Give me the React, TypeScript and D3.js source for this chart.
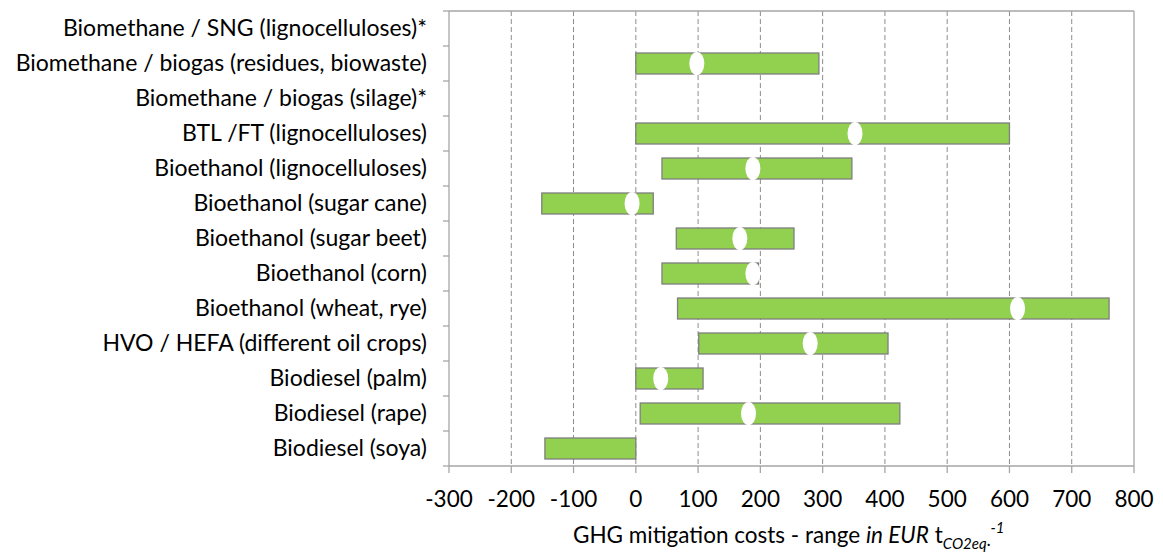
import React from "react";
import * as d3 from "d3";

const categories = [
  "Biomethane / SNG (lignocelluloses)*",
  "Biomethane / biogas (residues, biowaste)",
  "Biomethane / biogas (silage)*",
  "BTL /FT (lignocelluloses)",
  "Bioethanol (lignocelluloses)",
  "Bioethanol (sugar cane)",
  "Bioethanol (sugar beet)",
  "Bioethanol (corn)",
  "Bioethanol (wheat, rye)",
  "HVO / HEFA (different oil crops)",
  "Biodiesel (palm)",
  "Biodiesel (rape)",
  "Biodiesel (soya)",
];
const rangeMin: (number | null)[] = [null, 0, null, 0, 42, -151, 65, 42, 67, 101, 0, 7, -146];
const rangeMax: (number | null)[] = [null, 294, null, 600, 347, 28, 254, 197, 760, 405, 108, 424, 0];
const midValue: (number | null)[] = [null, 98, null, 352, 188, -6, 167, 188, 613, 280, 40, 181, null];
const xTicks = [-300, -200, -100, 0, 100, 200, 300, 400, 500, 600, 700, 800];

const W = 1163, H = 555;
const left = 449, right = 1134, top = 11, bottom = 466;
const font = "Lato, 'Open Sans', sans-serif";
const axisColor = "#a6a6a6";

export default function App() {
  const x = d3.scaleLinear().domain([-300, 800]).range([left, right]);
  const y = d3.scaleBand().domain(categories).range([top, bottom]).paddingInner(0).paddingOuter(0);
  const bw = y.bandwidth();
  const barH = 21;
  return (
    <svg width={W} height={H} style={{ position: "absolute", left: 0, top: 0, background: "#fff" }}>
      {xTicks.slice(1, -1).map((t) => (
        <line key={"g" + t} x1={x(t)} x2={x(t)} y1={top} y2={bottom} stroke="#8c8c8c" strokeWidth={1} strokeDasharray="5,3" />
      ))}
      <line x1={left} x2={right} y1={top} y2={top} stroke={axisColor} strokeWidth={1.3} />
      <line x1={right} x2={right} y1={top} y2={bottom} stroke={axisColor} strokeWidth={1.3} />
      <line x1={left} x2={left} y1={top} y2={bottom} stroke={axisColor} strokeWidth={1.3} />
      <line x1={left} x2={right} y1={bottom} y2={bottom} stroke={axisColor} strokeWidth={1.3} />
      {categories.map((c, i) => (
        <line key={"yt" + i} x1={left - 6} x2={left} y1={(y(c) as number)} y2={(y(c) as number)} stroke={axisColor} strokeWidth={1.3} />
      ))}
      <line x1={left - 6} x2={left} y1={bottom} y2={bottom} stroke={axisColor} strokeWidth={1.3} />
      {xTicks.map((t) => (
        <g key={"xt" + t}>
          <line x1={x(t)} x2={x(t)} y1={bottom} y2={bottom + 7} stroke={axisColor} strokeWidth={1.3} />
          <text x={x(t)} y={506.5} textAnchor="middle" fontFamily={font} fontSize={22.5} fill="#000">{t}</text>
        </g>
      ))}
      {categories.map((c, i) => {
        const a = rangeMin[i], b = rangeMax[i];
        if (a === null || b === null) return null;
        const cy = (y(c) as number) + bw / 2;
        return (
          <rect key={"b" + i} x={x(a)} y={cy - barH / 2} width={x(b) - x(a)} height={barH} fill="#92d050" stroke="#7f7f7f" strokeWidth={1.3} />
        );
      })}
      {categories.map((c, i) => {
        const m = midValue[i];
        if (m === null) return null;
        const cy = (y(c) as number) + bw / 2;
        return <ellipse key={"m" + i} cx={x(m)} cy={cy} rx={7.5} ry={11.5} fill="#fff" />;
      })}
      {categories.map((c) => (
        <text key={"l" + c} x={427} y={(y(c) as number) + bw / 2 + 7.5} textAnchor="end" fontFamily={font} fontSize={23} fill="#000">{c}</text>
      ))}
      <text x={573} y={543} textAnchor="start" fontFamily={font} fontSize={22.5} fill="#000">
        GHG mitigation costs - range <tspan fontStyle="italic">in EUR</tspan> t
        <tspan fontSize={15} fontStyle="italic" dy={6}>CO2eq</tspan>
        <tspan fontSize={15} fontStyle="italic">·</tspan>
        <tspan fontSize={15} fontStyle="italic" dy={-16}>-1</tspan>
      </text>
    </svg>
  );
}
